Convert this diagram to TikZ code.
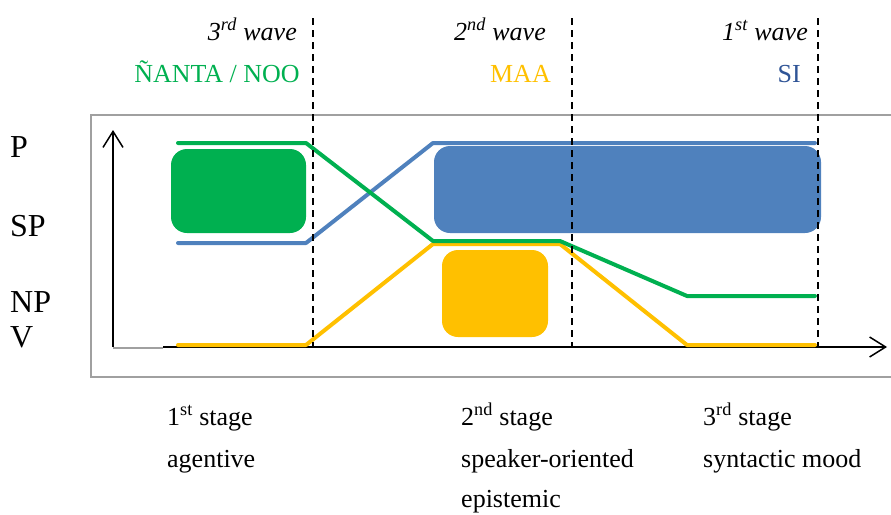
\documentclass[tikz,border=0pt]{standalone}
\usepackage{fontspec}
\setmainfont{Liberation Serif}
\usetikzlibrary{arrows.meta}
\definecolor{wgreen}{HTML}{00B050}
\definecolor{wblue}{HTML}{4F81BD}
\definecolor{wgold}{HTML}{FFC000}
\definecolor{wnavy}{HTML}{2F5496}
\definecolor{wframe}{HTML}{A0A0A0}
\begin{document}
\begin{tikzpicture}[x=1pt, y=-1pt, font=\fontsize{26}{31}\selectfont,
  >={Straight Barb[length=16pt,width=20pt,line width=1.5pt]},
  level/.style={anchor=base west, inner sep=0pt, font=\fontsize{32}{38}\selectfont},
  wavelbl/.style={anchor=base east, inner sep=0pt, font=\fontsize{26}{31}\selectfont\itshape},
  stagelbl/.style={anchor=base west, inner sep=0pt},
  trend/.style={line width=4pt, line join=round, line cap=round},
  blob/.style={rounded corners=16pt},
  wavecut/.style={line width=1.5pt, dash pattern=on 7pt off 5pt}]
  \useasboundingbox (0,0) rectangle (891,514);
  % frame and axes
  \draw[wframe, line width=1.5pt] (891,115) -- (91,115) -- (91,377) -- (891,377);
  \draw[line width=1.5pt, ->] (113,347) -- (113,130);
  \draw[wframe, line width=1.5pt] (113,348) -- (163,348);
  \draw[line width=1.5pt, ->] (163,347) -- (887,347);
  % boxes
  \fill[wgreen, blob] (171,149) rectangle (306,233);
  \fill[wblue, blob] (434,146) rectangle (821,233);
  \fill[wgold, blob] (442,250) rectangle (548,337);
  % trends
  \draw[trend, wgold] (178,345) -- (306,345) -- (433,244) -- (560,244) -- (687,345) -- (815,345);
  \draw[trend, wblue] (178,243) -- (306,243) -- (433,143) -- (815,143);
  \draw[trend, wgreen] (178,143) -- (306,143) -- (433,241) -- (560,241) -- (687,296) -- (815,296);
  % waves
  \foreach \xx in {313,572,818}
    \draw[wavecut] (\xx,18) -- (\xx,347);
  % labels
  \node[level] (p) at (10,157) {P};
  \node[level] (sp) at (10,236) {SP};
  \node[level] (np) at (10,312) {NP};
  \node[level] (v) at (10,347) {V};
  \node[wavelbl] (w3) at (297,40) {3\textsuperscript{rd} wave};
  \node[wavelbl] (w2) at (546,40) {2\textsuperscript{nd} wave};
  \node[wavelbl] (w1) at (808,40) {1\textsuperscript{st} wave};
  \node[wavelbl, font=\fontsize{26}{31}\selectfont, wgreen] (nanta) at (300,82) {ÑANTA / NOO};
  \node[wavelbl, font=\fontsize{26}{31}\selectfont, wgold] (maa) at (551,82) {MAA};
  \node[wavelbl, font=\fontsize{26}{31}\selectfont, wnavy] (si) at (801,82) {SI};
  \node[stagelbl] (s1) at (167,425) {1\textsuperscript{st} stage};
  \node[stagelbl] (s1b) at (167,467) {agentive};
  \node[stagelbl] (s2) at (461,425) {2\textsuperscript{nd} stage};
  \node[stagelbl] (s2b) at (461,467) {speaker-oriented};
  \node[stagelbl] (s2c) at (461,507) {epistemic};
  \node[stagelbl] (s3) at (703,425) {3\textsuperscript{rd} stage};
  \node[stagelbl] (s3b) at (703,467) {syntactic mood};
\end{tikzpicture}
\end{document}
